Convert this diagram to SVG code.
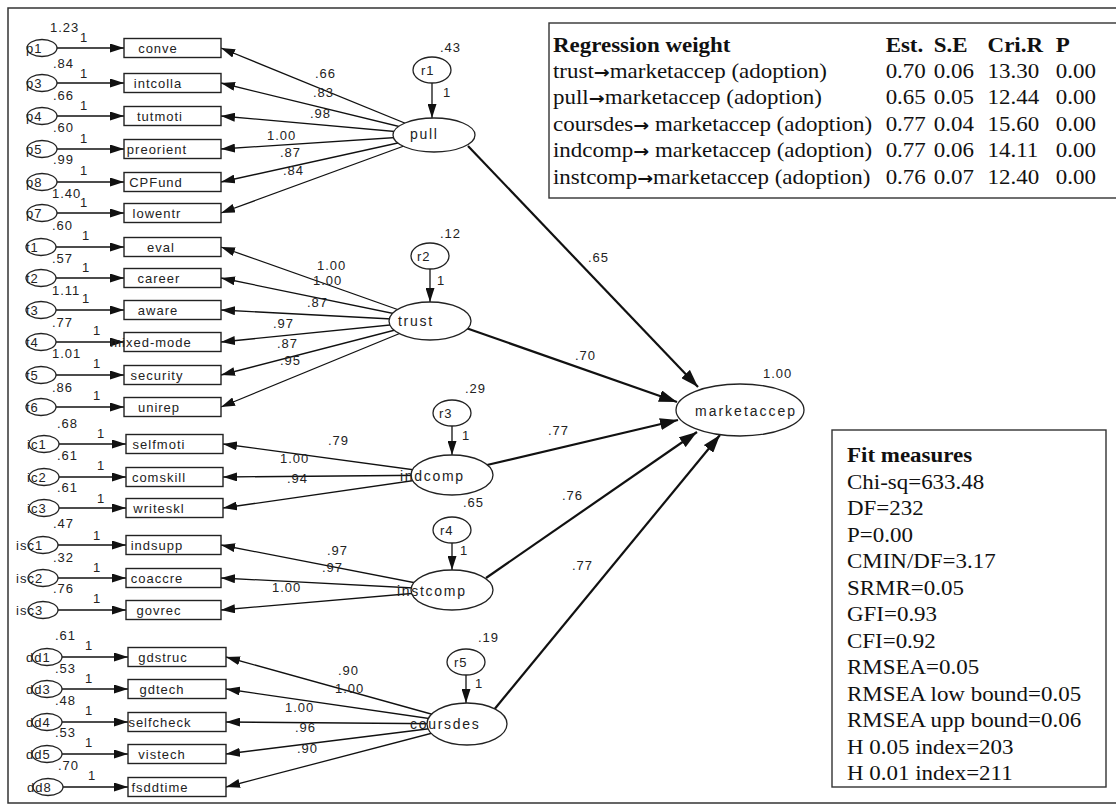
<svg xmlns="http://www.w3.org/2000/svg" width="1116" height="808" viewBox="0 0 1116 808">
<style>
.ln{stroke:#111;stroke-width:1.3;fill:none}
.st{stroke:#111;stroke-width:2.2;fill:none}
.box{fill:#fff;stroke:#222;stroke-width:1.4}
.el{fill:#fff;stroke:#222;stroke-width:1.3}
.frame{fill:none;stroke:#333;stroke-width:1.5}
.t{font-family:"Liberation Sans",Arial,sans-serif;font-size:13px;letter-spacing:1px;fill:#222}
.lt{font-size:14px;letter-spacing:1.7px}
.mk{font-size:14px;letter-spacing:2px}
.tb{font-family:"Liberation Serif","Times New Roman",serif;font-size:20.5px;fill:#111}
.b{font-weight:bold}
.ar{font-family:"DejaVu Sans",sans-serif;font-size:17px;font-weight:bold}
</style>
<defs>
<marker id="ah" markerUnits="userSpaceOnUse" markerWidth="14" markerHeight="9" refX="14" refY="4.5" orient="auto"><path d="M0,0 L14,4.5 L0,9 z" fill="#111"/></marker>
<marker id="ahL" markerUnits="userSpaceOnUse" markerWidth="18" markerHeight="12" refX="18" refY="6" orient="auto"><path d="M0,0 L18,6 L0,12 z" fill="#111"/></marker>
</defs>
<rect width="1116" height="808" fill="#fff"/>
<path class="frame" d="M1120,8 H8 V803 H1120"/>

<!-- connectors -->
<g id="connectors">
  <!-- pull loadings -->
  <g class="ln" marker-end="url(#ah)">
    <line x1="434" y1="135" x2="221" y2="48"/>
    <line x1="434" y1="135" x2="221" y2="83"/>
    <line x1="434" y1="135" x2="221" y2="116"/>
    <line x1="434" y1="135" x2="221" y2="149"/>
    <line x1="434" y1="135" x2="221" y2="182"/>
    <line x1="434" y1="135" x2="221" y2="213"/>
    <!-- trust loadings -->
    <line x1="430" y1="321" x2="221" y2="247"/>
    <line x1="430" y1="321" x2="221" y2="278"/>
    <line x1="430" y1="321" x2="221" y2="310"/>
    <line x1="430" y1="321" x2="221" y2="342"/>
    <line x1="430" y1="321" x2="221" y2="375"/>
    <line x1="430" y1="321" x2="221" y2="407"/>
    <!-- indcomp loadings -->
    <line x1="452" y1="475" x2="223" y2="444"/>
    <line x1="452" y1="475" x2="223" y2="477"/>
    <line x1="452" y1="475" x2="223" y2="508"/>
    <!-- instcomp loadings -->
    <line x1="452" y1="590" x2="221" y2="545"/>
    <line x1="452" y1="590" x2="221" y2="578"/>
    <line x1="452" y1="590" x2="221" y2="610"/>
    <!-- coursdes loadings -->
    <line x1="467" y1="724" x2="226" y2="657"/>
    <line x1="467" y1="724" x2="226" y2="689"/>
    <line x1="467" y1="724" x2="226" y2="722"/>
    <line x1="467" y1="724" x2="226" y2="754"/>
    <line x1="467" y1="724" x2="226" y2="787"/>
    <!-- error terms -->
    <line x1="57" y1="48" x2="124" y2="48"/>
    <line x1="57" y1="83" x2="124" y2="83"/>
    <line x1="57" y1="116" x2="124" y2="116"/>
    <line x1="57" y1="149" x2="124" y2="149"/>
    <line x1="57" y1="182" x2="124" y2="182"/>
    <line x1="57" y1="213" x2="124" y2="213"/>
    <line x1="56" y1="247" x2="124" y2="247"/>
    <line x1="56" y1="278" x2="124" y2="278"/>
    <line x1="56" y1="310" x2="124" y2="310"/>
    <line x1="56" y1="342" x2="124" y2="342"/>
    <line x1="56" y1="375" x2="124" y2="375"/>
    <line x1="56" y1="407" x2="124" y2="407"/>
    <line x1="59" y1="444" x2="126" y2="444"/>
    <line x1="59" y1="477" x2="126" y2="477"/>
    <line x1="59" y1="508" x2="126" y2="508"/>
    <line x1="58" y1="545" x2="126" y2="545"/>
    <line x1="58" y1="578" x2="126" y2="578"/>
    <line x1="58" y1="610" x2="126" y2="610"/>
    <line x1="62" y1="657" x2="128" y2="657"/>
    <line x1="62" y1="689" x2="128" y2="689"/>
    <line x1="62" y1="722" x2="128" y2="722"/>
    <line x1="62" y1="754" x2="128" y2="754"/>
    <line x1="63" y1="787" x2="128" y2="787"/>
    <!-- residuals -->
    <line x1="432" y1="83" x2="432" y2="118"/>
    <line x1="430" y1="269" x2="430" y2="302"/>
    <line x1="452" y1="426" x2="452" y2="455"/>
    <line x1="452" y1="543" x2="452" y2="570"/>
    <line x1="466" y1="675" x2="466" y2="703"/>
  </g>
  <!-- structural paths -->
  <g class="st" marker-end="url(#ahL)">
    <line x1="468" y1="146" x2="698" y2="387"/>
    <line x1="466" y1="328" x2="677" y2="402"/>
    <line x1="487" y1="465" x2="678" y2="420"/>
    <line x1="486" y1="578" x2="697" y2="432"/>
    <line x1="493" y1="711" x2="720" y2="435"/>
  </g>
  <!-- path estimates -->
  <g class="t">
    <text x="315" y="78">.66</text><text x="313" y="97">.83</text><text x="310" y="118">.98</text>
    <text x="267" y="140">1.00</text><text x="280" y="157">.87</text><text x="283" y="175">.84</text>
    <text x="317" y="270">1.00</text><text x="313" y="285">1.00</text><text x="307" y="307">.87</text>
    <text x="273" y="328">.97</text><text x="277" y="348">.87</text><text x="280" y="365">.95</text>
    <text x="328" y="445">.79</text><text x="280" y="463">1.00</text><text x="287" y="483">.94</text>
    <text x="327" y="555">.97</text><text x="322" y="572">.97</text><text x="272" y="592">1.00</text>
    <text x="338" y="675">.90</text><text x="335" y="693">1.00</text><text x="285" y="712">1.00</text>
    <text x="295" y="732">.96</text><text x="297" y="753">.90</text>
    <text x="588" y="262">.65</text><text x="575" y="360">.70</text><text x="548" y="435">.77</text>
    <text x="562" y="500">.76</text><text x="572" y="570">.77</text>
    <!-- fixed paths -->
    <text x="80" y="42">1</text><text x="80" y="78">1</text><text x="80" y="110">1</text>
    <text x="80" y="143">1</text><text x="80" y="175">1</text><text x="80" y="207">1</text>
    <text x="82" y="240">1</text><text x="82" y="272">1</text><text x="82" y="303">1</text>
    <text x="93" y="335">1</text><text x="93" y="368">1</text><text x="93" y="400">1</text>
    <text x="97" y="438">1</text><text x="97" y="470">1</text><text x="97" y="503">1</text>
    <text x="93" y="540">1</text><text x="93" y="572">1</text><text x="93" y="603">1</text>
    <text x="85" y="650">1</text><text x="85" y="683">1</text><text x="85" y="715">1</text>
    <text x="85" y="747">1</text><text x="88" y="780">1</text>
    <text x="443" y="97">1</text><text x="437" y="285">1</text><text x="462" y="440">1</text>
    <text x="460" y="555">1</text><text x="475" y="688">1</text>
  </g>
</g>

<!-- observed indicators -->
<g id="indicators" class="t">
  <g id="conve"><rect class="box" x="124" y="38.5" width="97" height="19"/><text x="158" y="53" text-anchor="middle">conve</text></g>
  <g id="intcolla"><rect class="box" x="124" y="73.5" width="97" height="19"/><text x="158" y="88" text-anchor="middle">intcolla</text></g>
  <g id="tutmoti"><rect class="box" x="124" y="106.5" width="97" height="19"/><text x="160" y="121" text-anchor="middle">tutmoti</text></g>
  <g id="preorient"><rect class="box" x="124" y="139.5" width="97" height="19"/><text x="157" y="154" text-anchor="middle">preorient</text></g>
  <g id="CPFund"><rect class="box" x="124" y="172.5" width="97" height="19"/><text x="156" y="187" text-anchor="middle">CPFund</text></g>
  <g id="lowentr"><rect class="box" x="124" y="203.5" width="97" height="19"/><text x="157" y="218" text-anchor="middle">lowentr</text></g>
  <g id="eval"><rect class="box" x="124" y="237.5" width="97" height="19"/><text x="161" y="252" text-anchor="middle">eval</text></g>
  <g id="career"><rect class="box" x="124" y="268.5" width="97" height="19"/><text x="159" y="283" text-anchor="middle">career</text></g>
  <g id="aware"><rect class="box" x="124" y="300.5" width="97" height="19"/><text x="158" y="315" text-anchor="middle">aware</text></g>
  <g id="mixed-mode"><rect class="box" x="124" y="332.5" width="97" height="19"/><text x="151" y="347" text-anchor="middle">mixed-mode</text></g>
  <g id="security"><rect class="box" x="124" y="365.5" width="97" height="19"/><text x="157" y="380" text-anchor="middle">security</text></g>
  <g id="unirep"><rect class="box" x="124" y="397.5" width="97" height="19"/><text x="159" y="412" text-anchor="middle">unirep</text></g>
  <g id="selfmoti"><rect class="box" x="126" y="434.5" width="97" height="19"/><text x="159" y="449" text-anchor="middle">selfmoti</text></g>
  <g id="comskill"><rect class="box" x="126" y="467.5" width="97" height="19"/><text x="159" y="482" text-anchor="middle">comskill</text></g>
  <g id="writeskl"><rect class="box" x="126" y="498.5" width="97" height="19"/><text x="159" y="513" text-anchor="middle">writeskl</text></g>
  <g id="indsupp"><rect class="box" x="126" y="535.5" width="95" height="19"/><text x="157" y="550" text-anchor="middle">indsupp</text></g>
  <g id="coaccre"><rect class="box" x="126" y="568.5" width="95" height="19"/><text x="157" y="583" text-anchor="middle">coaccre</text></g>
  <g id="govrec"><rect class="box" x="126" y="600.5" width="95" height="19"/><text x="159" y="615" text-anchor="middle">govrec</text></g>
  <g id="gdstruc"><rect class="box" x="128" y="647.5" width="98" height="19"/><text x="163" y="662" text-anchor="middle">gdstruc</text></g>
  <g id="gdtech"><rect class="box" x="128" y="679.5" width="98" height="19"/><text x="162" y="694" text-anchor="middle">gdtech</text></g>
  <g id="selfcheck"><rect class="box" x="128" y="712.5" width="98" height="19"/><text x="160" y="727" text-anchor="middle">selfcheck</text></g>
  <g id="vistech"><rect class="box" x="128" y="744.5" width="98" height="19"/><text x="162" y="759" text-anchor="middle">vistech</text></g>
  <g id="fsddtime"><rect class="box" x="128" y="777.5" width="98" height="19"/><text x="160" y="792" text-anchor="middle">fsddtime</text></g>
</g>

<!-- measurement errors with variances -->
<g id="errors" class="t">
  <g id="p1"><ellipse class="el" cx="42" cy="48" rx="15" ry="8.5"/><text x="26" y="53">p1</text><text x="50" y="32">1.23</text></g>
  <g id="p3"><ellipse class="el" cx="42" cy="83" rx="15" ry="8.5"/><text x="26" y="88">p3</text><text x="53" y="68">.84</text></g>
  <g id="p4"><ellipse class="el" cx="42" cy="116" rx="15" ry="8.5"/><text x="26" y="121">p4</text><text x="53" y="100">.66</text></g>
  <g id="p5"><ellipse class="el" cx="42" cy="149" rx="15" ry="8.5"/><text x="26" y="154">p5</text><text x="53" y="132">.60</text></g>
  <g id="p8"><ellipse class="el" cx="42" cy="182" rx="15" ry="8.5"/><text x="26" y="187">p8</text><text x="53" y="164">.99</text></g>
  <g id="p7"><ellipse class="el" cx="42" cy="213" rx="15" ry="8.5"/><text x="26" y="218">p7</text><text x="52" y="198">1.40</text></g>
  <g id="t1"><ellipse class="el" cx="41" cy="247" rx="15" ry="8.5"/><text x="26" y="252">t1</text><text x="52" y="230">.60</text></g>
  <g id="t2"><ellipse class="el" cx="41" cy="278" rx="15" ry="8.5"/><text x="26" y="283">t2</text><text x="52" y="263">.57</text></g>
  <g id="t3"><ellipse class="el" cx="41" cy="310" rx="15" ry="8.5"/><text x="26" y="315">t3</text><text x="52" y="295">1.11</text></g>
  <g id="t4"><ellipse class="el" cx="41" cy="342" rx="15" ry="8.5"/><text x="26" y="347">t4</text><text x="52" y="327">.77</text></g>
  <g id="t5"><ellipse class="el" cx="41" cy="375" rx="15" ry="8.5"/><text x="26" y="380">t5</text><text x="52" y="358">1.01</text></g>
  <g id="t6"><ellipse class="el" cx="41" cy="407" rx="15" ry="8.5"/><text x="26" y="412">t6</text><text x="52" y="392">.86</text></g>
  <g id="ic1"><ellipse class="el" cx="44" cy="444" rx="15" ry="8.5"/><text x="27" y="449">ic1</text><text x="57" y="428">.68</text></g>
  <g id="ic2"><ellipse class="el" cx="44" cy="477" rx="15" ry="8.5"/><text x="27" y="482">ic2</text><text x="57" y="460">.61</text></g>
  <g id="ic3"><ellipse class="el" cx="44" cy="508" rx="15" ry="8.5"/><text x="27" y="513">ic3</text><text x="57" y="492">.61</text></g>
  <g id="isc1"><ellipse class="el" cx="43" cy="545" rx="15" ry="8.5"/><text x="16" y="550">isc1</text><text x="53" y="528">.47</text></g>
  <g id="isc2"><ellipse class="el" cx="43" cy="578" rx="15" ry="8.5"/><text x="16" y="583">isc2</text><text x="53" y="562">.32</text></g>
  <g id="isc3"><ellipse class="el" cx="43" cy="610" rx="15" ry="8.5"/><text x="16" y="615">isc3</text><text x="53" y="593">.76</text></g>
  <g id="dd1"><ellipse class="el" cx="47" cy="657" rx="15" ry="8.5"/><text x="26" y="662">dd1</text><text x="55" y="640">.61</text></g>
  <g id="dd3"><ellipse class="el" cx="47" cy="689" rx="15" ry="8.5"/><text x="26" y="694">dd3</text><text x="55" y="673">.53</text></g>
  <g id="dd4"><ellipse class="el" cx="47" cy="722" rx="15" ry="8.5"/><text x="26" y="727">dd4</text><text x="55" y="705">.48</text></g>
  <g id="dd5"><ellipse class="el" cx="47" cy="754" rx="15" ry="8.5"/><text x="26" y="759">dd5</text><text x="55" y="737">.53</text></g>
  <g id="dd8"><ellipse class="el" cx="48" cy="787" rx="15" ry="8.5"/><text x="27" y="792">dd8</text><text x="58" y="770">.70</text></g>
</g>

<!-- residuals -->
<g id="residuals" class="t">
  <g id="r1"><ellipse class="el" cx="432" cy="70" rx="19" ry="13"/><text x="421" y="75">r1</text><text x="440" y="52">.43</text></g>
  <g id="r2"><ellipse class="el" cx="430" cy="256" rx="19" ry="13"/><text x="417" y="261">r2</text><text x="440" y="238">.12</text></g>
  <g id="r3"><ellipse class="el" cx="452" cy="413" rx="19" ry="13"/><text x="439" y="418">r3</text><text x="465" y="393">.29</text></g>
  <g id="r4"><ellipse class="el" cx="452" cy="530" rx="19" ry="13"/><text x="440" y="535">r4</text><text x="463" y="507">.65</text></g>
  <g id="r5"><ellipse class="el" cx="466" cy="662" rx="19" ry="13"/><text x="454" y="667">r5</text><text x="478" y="642">.19</text></g>
</g>

<!-- latent constructs -->
<g id="latents" class="t">
  <g id="pull"><ellipse class="el" cx="434" cy="135" rx="41" ry="17"/><text class="lt" x="410" y="139">pull</text></g>
  <g id="trust"><ellipse class="el" cx="430" cy="321" rx="41" ry="19"/><text class="lt" x="398" y="326">trust</text></g>
  <g id="indcomp"><ellipse class="el" cx="452" cy="475" rx="41" ry="20"/><text class="lt" x="400" y="481">indcomp</text></g>
  <g id="instcomp"><ellipse class="el" cx="452" cy="590" rx="41" ry="20"/><text class="lt" x="397" y="596">instcomp</text></g>
  <g id="coursdes"><ellipse class="el" cx="467" cy="724" rx="40" ry="21"/><text class="lt" x="410" y="729">coursdes</text></g>
  <g id="marketaccep"><ellipse class="el" cx="740" cy="410" rx="64" ry="26"/><text class="mk" x="695" y="416">marketaccep</text><text x="763" y="378">1.00</text></g>
</g>

<!-- regression weights table -->
<g id="regression-table">
  <rect x="549" y="23" width="600" height="175" fill="#fff" stroke="#333" stroke-width="1.4"/>
  <g class="tb" transform="translate(553,0) scale(1.12,1)">
    <g class="b"><text x="0" y="52">Regression weight</text><text x="297" y="52">Est.</text><text x="340" y="52">S.E</text><text x="388" y="52">Cri.R</text><text x="449" y="52">P</text></g>
    <text x="0" y="78">trust<tspan class="ar">→</tspan>marketaccep (adoption)</text><text x="297" y="78">0.70</text><text x="340" y="78">0.06</text><text x="388" y="78">13.30</text><text x="449" y="78">0.00</text>
    <text x="0" y="104">pull<tspan class="ar">→</tspan>marketaccep (adoption)</text><text x="297" y="104">0.65</text><text x="340" y="104">0.05</text><text x="388" y="104">12.44</text><text x="449" y="104">0.00</text>
    <text x="0" y="131">coursdes<tspan class="ar">→</tspan> marketaccep (adoption)</text><text x="297" y="131">0.77</text><text x="340" y="131">0.04</text><text x="388" y="131">15.60</text><text x="449" y="131">0.00</text>
    <text x="0" y="157">indcomp<tspan class="ar">→</tspan> marketaccep (adoption)</text><text x="297" y="157">0.77</text><text x="340" y="157">0.06</text><text x="388" y="157">14.11</text><text x="449" y="157">0.00</text>
    <text x="0" y="184">instcomp<tspan class="ar">→</tspan>marketaccep (adoption)</text><text x="297" y="184">0.76</text><text x="340" y="184">0.07</text><text x="388" y="184">12.40</text><text x="449" y="184">0.00</text>
  </g>
</g>

<!-- fit measures -->
<g id="fit-measures">
  <rect x="832" y="430" width="274" height="357" fill="#fff" stroke="#333" stroke-width="1.4"/>
  <g class="tb" transform="translate(847,0) scale(1.12,1)">
    <text class="b" x="0" y="462">Fit measures</text>
    <text x="0" y="489">Chi-sq=633.48</text>
    <text x="0" y="515">DF=232</text>
    <text x="0" y="542">P=0.00</text>
    <text x="0" y="568">CMIN/DF=3.17</text>
    <text x="0" y="595">SRMR=0.05</text>
    <text x="0" y="621">GFI=0.93</text>
    <text x="0" y="648">CFI=0.92</text>
    <text x="0" y="674">RMSEA=0.05</text>
    <text x="0" y="701">RMSEA low bound=0.05</text>
    <text x="0" y="727">RMSEA upp bound=0.06</text>
    <text x="0" y="754">H 0.05 index=203</text>
    <text x="0" y="780">H 0.01 index=211</text>
  </g>
</g>
</svg>
